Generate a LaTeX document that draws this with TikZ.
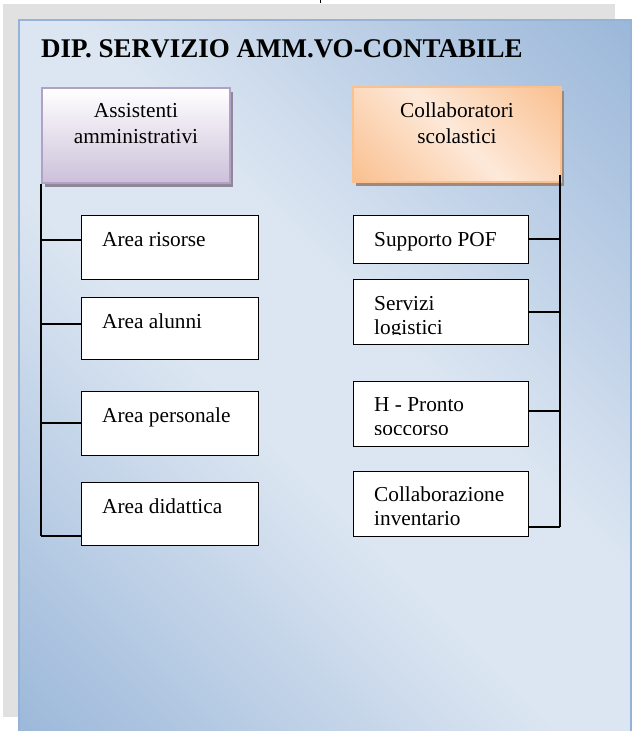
\documentclass[tikz,border=0pt]{standalone}
\usepackage{fontspec}
\setmainfont{Liberation Serif}
\usetikzlibrary{shadows}

\definecolor{back_gray}{HTML}{E1E1E1}
\definecolor{panel_dark}{HTML}{95B3D7}
\definecolor{panel_light}{HTML}{DCE6F2}
\definecolor{lav_bottom}{HTML}{CCC0DA}
\definecolor{lav_border}{HTML}{B2A1C7}
\definecolor{peach_dark}{HTML}{FAC090}
\definecolor{peach_light}{HTML}{FDE9D9}
\definecolor{shadow_lav}{HTML}{8F8899}
\definecolor{shadow_peach}{HTML}{9E8A7C}

\pgfdeclarehorizontalshading{panel_shade}{100bp}{color(0bp)=(panel_dark); color(12bp)=(panel_dark); color(44bp)=(panel_light); color(56bp)=(panel_light); color(88bp)=(panel_dark); color(100bp)=(panel_dark)}
\pgfdeclarehorizontalshading{peach_shade}{100bp}{color(0bp)=(peach_dark); color(15bp)=(peach_dark); color(50bp)=(peach_light); color(85bp)=(peach_dark); color(100bp)=(peach_dark)}

\tikzset{
  head_box/.style={anchor=north west, minimum height=95pt, inner sep=0pt, line width=2pt},
  head_text/.style={font=\fontsize{21.3pt}{26pt}\selectfont, align=center, inner sep=0pt, anchor=north},
  leaf_box/.style={draw, line width=1.2pt, fill=white, anchor=north west, inner sep=0pt},
  leaf_text/.style={font=\fontsize{21.3pt}{24pt}\selectfont, align=left, inner sep=0pt, anchor=base west},
  link/.style={line width=1.2pt}
}

\begin{document}
\begin{tikzpicture}[x=1pt,y=-1pt]
  \useasboundingbox (0,0) rectangle (637,731);
  % backdrop and panel
  \fill[back_gray] (3,4) rectangle (615,717);
  \shadedraw[shading=panel_shade, shading angle=45, draw=panel_dark, line width=2pt] (19,20) rectangle (631,745);
  \draw[line width=0.6pt] (320,0) -- (320,3);

  \node[anchor=base west, inner sep=0pt, font=\bfseries\fontsize{27pt}{32pt}\selectfont] (titolo) at (41,57) {DIP. SERVIZIO AMM.VO-CONTABILE};

  % heads
  \node[head_box, minimum width=188pt, draw=lav_border, top color=white, bottom color=lav_bottom,
        drop shadow={shadow xshift=3pt, shadow yshift=-4pt, fill=shadow_lav, opacity=1}] (assist) at (41,87) {};
  \node[head_text] (assist_t) at ([yshift=-16.5pt]assist.north) {Assistenti\\amministrativi};

  \node[head_box, minimum width=208pt, draw=peach_dark, shade, shading=peach_shade, shading angle=45,
        drop shadow={shadow xshift=3pt, shadow yshift=-4pt, fill=shadow_peach, opacity=1}] (collab) at (352,86) {};
  \node[head_text] (collab_t) at ([yshift=-17pt]collab.north) {Collaboratori\\scolastici};

  % left column
  \foreach \name/\y/\h/\txt in {risorse/215/64/Area risorse, alunni/297/62/Area alunni,
                                 personale/391/64/Area personale, didattica/482/63/Area didattica} {
      \node[leaf_box, minimum width=177pt, minimum height=\h pt] (\name) at (81,\y) {};
      \node[leaf_text] (\name_t) at ([shift={(21pt,-31pt)}]\name.north west) {\txt};
    }

  % right column (base = last line)
  \foreach \name/\y/\h/\b/\cl/\txt in {pof/215/48/31/0/Supporto POF, logistici/279/65/55/11/Servizi\\logistici,
                                        soccorso/381/65/54.5/12.5/H - Pronto\\soccorso, inventario/471/65/54/0/Collaborazione\\inventario} {
      \node[leaf_box, minimum width=175pt, minimum height=\h pt] (\name) at (353,\y) {};
      \begin{scope}
        \clip (\name.north west) rectangle ([yshift=\cl pt]\name.south east);
        \node[leaf_text] (\name_t) at ([shift={(21pt,-\b pt)}]\name.north west) {\txt};
      \end{scope}
    }

  % links
  \draw[link] (assist.south west) -- (assist.south west |- 0,536);
  \foreach \name/\y in {risorse/240, alunni/324, personale/423, didattica/536}
    \draw[link] (assist.south west |- 0,\y) -- (\name.west |- 0,\y);

  \coordinate (r_top) at ([shift={(-2pt,8pt)}]collab.south east);
  \draw[link] (r_top) -- (r_top |- 0,527);
  \foreach \name/\y in {pof/239, logistici/312, soccorso/411, inventario/527}
    \draw[link] (r_top |- 0,\y) -- (\name.east |- 0,\y);
\end{tikzpicture}
\end{document}
